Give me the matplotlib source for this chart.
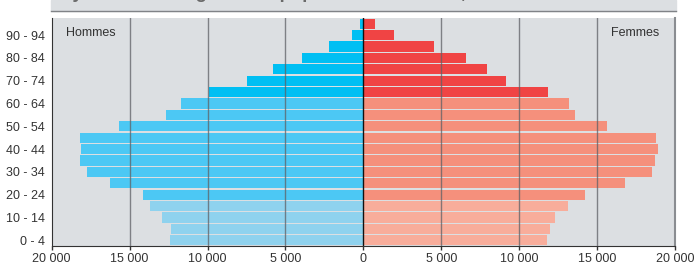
import matplotlib.pyplot as plt
from matplotlib.patches import Rectangle
from matplotlib.lines import Line2D

plt.rcParams['font.family'] = ['Liberation Sans', 'DejaVu Sans']

# classes d'âge, de 0-4 à 95+
ages = ['0 - 4', '5 - 9', '10 - 14', '15 - 19', '20 - 24', '25 - 29', '30 - 34',
        '35 - 39', '40 - 44', '45 - 49', '50 - 54', '55 - 59', '60 - 64',
        '65 - 69', '70 - 74', '75 - 79', '80 - 84', '85 - 89', '90 - 94', '95+']
hommes = [12390, 12320, 12900, 13690, 14140, 16280, 17720, 18170, 18120, 18180,
          15680, 12660, 11680, 9900, 7470, 5800, 3930, 2200, 730, 210]
femmes = [11790, 11980, 12300, 13140, 14230, 16800, 18530, 18720, 18920, 18790,
          15640, 13590, 13200, 11850, 9160, 7940, 6590, 4540, 1970, 750]
xticks = [-20000, -15000, -10000, -5000, 0, 5000, 10000, 15000, 20000]
xtick_labels = ['20 000', '15 000', '10 000', '5 000', '0', '5 000', '10 000', '15 000', '20 000']

# couleurs : jeunes (0-19), adultes (20-64), âgés (65+)
bleus = ['#8fd2ee', '#4cc8f4', '#00bff3']
rouges = ['#f8ad9b', '#f5907c', '#f04444']


def groupe(i):
    if i < 4:
        return 0
    if i < 13:
        return 1
    return 2


fig = plt.figure(figsize=(6.95, 2.67), dpi=100)
ax = fig.add_axes([51.7 / 695, 21 / 267, 623.3 / 695, 228 / 267])
ax.set_facecolor('#dcdfe2')

y = list(range(len(ages)))
ax.barh(y, [-v for v in hommes], height=0.88, color=[bleus[groupe(i)] for i in y], zorder=2)
ax.barh(y, femmes, height=0.88, color=[rouges[groupe(i)] for i in y], zorder=2)

# lignes verticales
for t in [-15000, -10000, -5000, 5000, 10000, 15000]:
    ax.axvline(t, color='#5f6166', lw=1, alpha=0.75, zorder=3)
ax.axvline(0, color='#111111', lw=1, zorder=4)

ax.set_xlim(-20000, 20000)
ax.set_ylim(-0.5, 19.5)
ax.set_xticks(xticks)
ax.set_xticklabels(xtick_labels, fontsize=9, color='#333333')
ax.set_yticks(y[::2])
ax.set_yticklabels(ages[::2], fontsize=9, color='#333333')
ax.tick_params(axis='x', length=3, width=1, color='#333333', pad=2)
ax.tick_params(axis='y', length=0, pad=5)

ax.spines['top'].set_visible(False)
ax.spines['left'].set_color('#333333')
ax.spines['bottom'].set_color('#333333')
ax.spines['right'].set_color('#8a8d91')
ax.spines['right'].set_linewidth(1.5)

ax.text(-19100, 18.15, 'Hommes', fontsize=9, color='#333333', ha='left', va='center', zorder=5)
ax.text(19000, 18.15, 'Femmes', fontsize=9, color='#333333', ha='right', va='center', zorder=5)

# bandeau du titre (coupé en haut)
fig.patches.append(Rectangle((51 / 695, 256.5 / 267), 625 / 695, 10.5 / 267,
                             transform=fig.transFigure, color='#dcdfe2', zorder=0))
fig.lines.append(Line2D([51 / 695, 676 / 695], [256 / 267, 256 / 267],
                        transform=fig.transFigure, color='#808387', lw=1))
fig.text(60 / 695, 1 + 2.5 / 267, 'Pyramide des âges de la population résidante, 2009',
         fontsize=13.3, fontweight='bold', color='#6a6a6a', va='baseline', ha='left')

fig.savefig('out.png', dpi=100)
